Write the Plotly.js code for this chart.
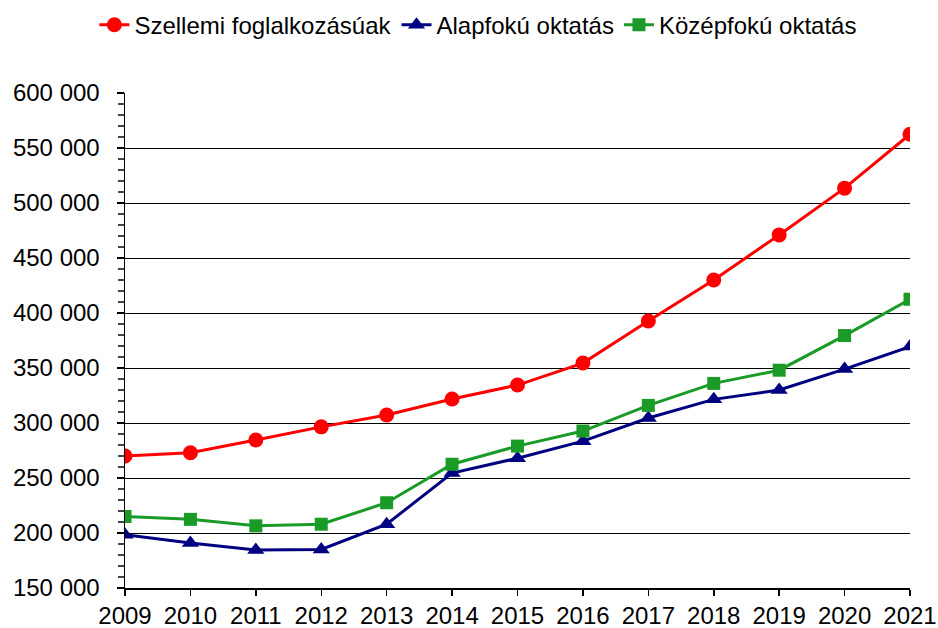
<!DOCTYPE html>
<html>
<head>
<meta charset="utf-8">
<script src="https://cdn.plot.ly/plotly-3.0.1.min.js"></script>
<style>
html,body{margin:0;padding:0;background:#fff;}
#chart{width:938px;height:628px;}
</style>
</head>
<body>
<div id="chart"></div>
<script>
const years = ['2009','2010','2011','2012','2013','2014','2015','2016','2017','2018','2019','2020','2021'];
const seriesNames = ['Szellemi foglalkozásúak', 'Alapfokú oktatás', 'Középfokú oktatás'];
const szellemi = [270000, 273000, 284500, 296500, 307300, 321800, 334500, 354500, 392700, 430000, 471000, 513500, 562500];
const alapfoku = [198500, 191000, 184500, 185000, 208000, 254500, 268000, 283500, 304500, 321500, 330000, 349000, 369500];
const kozepfoku = [215000, 212400, 206500, 208000, 227500, 262500, 279000, 292700, 316000, 336000, 348000, 379500, 412500];

const FONT = 'Arial, "Liberation Sans", sans-serif';

const traces = [
  {x: years, y: szellemi, name: seriesNames[0], type: 'scatter', mode: 'lines+markers',
   line: {color: '#FF0000', width: 3}, marker: {symbol: 'circle', size: 15, color: '#FF0000'}},
  {x: years, y: alapfoku, name: seriesNames[1], type: 'scatter', mode: 'lines+markers',
   line: {color: '#000080', width: 3}, marker: {symbol: 'triangle-up', size: 15, color: '#000080'}},
  {x: years, y: kozepfoku, name: seriesNames[2], type: 'scatter', mode: 'lines+markers',
   line: {color: '#1A9A26', width: 3}, marker: {symbol: 'square', size: 13, color: '#1A9A26'}}
];

const layout = {
  width: 938, height: 628,
  margin: {l: 125, r: 28, t: 93, b: 40, pad: 0, autoexpand: false},
  paper_bgcolor: '#fff', plot_bgcolor: '#fff',
  separators: ', ',
  font: {family: FONT, size: 24, color: '#000'},
  showlegend: true,
  legend: {orientation: 'h', x: 0.51, xref: 'container', xanchor: 'center',
           y: 0.96, yref: 'container', yanchor: 'middle',
           font: {family: FONT, size: 24, color: '#000'}, bgcolor: 'rgba(0,0,0,0)', itemwidth: 30, tracegroupgap: 0},
  xaxis: {type: 'category', range: [0, 12], showgrid: false, zeroline: false,
          showline: true, linecolor: '#000', linewidth: 1.5,
          ticks: 'outside', ticklen: 6, tickcolor: '#000', tickwidth: 1.5,
          tickfont: {family: FONT, size: 24, color: '#000'}, fixedrange: true},
  yaxis: {range: [150000, 600000], dtick: 50000, tick0: 150000, tickformat: ',d',
          showgrid: true, gridcolor: '#000', gridwidth: 1, zeroline: false,
          showline: true, linecolor: '#000', linewidth: 1.5,
          ticks: 'outside', ticklen: 7, tickcolor: '#000', tickwidth: 1.5, ticklabelstandoff: 12,
          minor: {dtick: 10000, ticks: 'outside', ticklen: 6, tickcolor: '#444', tickwidth: 1.5, showgrid: false},
          tickfont: {family: FONT, size: 24, color: '#000'}, fixedrange: true},
  yaxis2: {overlaying: 'y', side: 'left', range: [150000, 600000], dtick: 50000, tick0: 150000,
           showgrid: false, zeroline: false, showline: false, showticklabels: false,
           ticks: 'inside', ticklen: 7, tickcolor: '#000', tickwidth: 1.5,
           minor: {dtick: 10000, ticks: 'inside', ticklen: 6, tickcolor: '#444', tickwidth: 1.5, showgrid: false},
           fixedrange: true}
};

Plotly.newPlot('chart', traces, layout, {displayModeBar: false, staticPlot: true});
</script>
</body>
</html>
